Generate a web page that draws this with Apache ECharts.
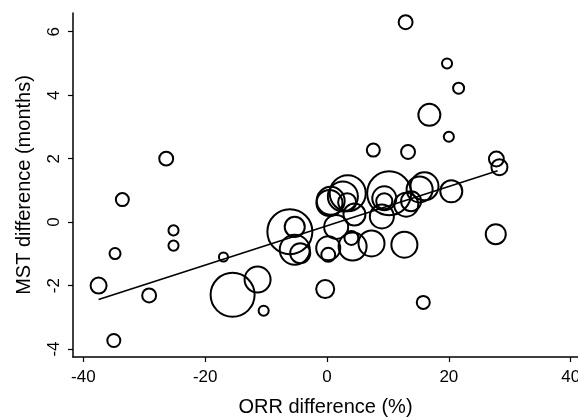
<!DOCTYPE html>
<html>
<head>
<meta charset="utf-8">
<script src="https://cdn.jsdelivr.net/npm/echarts@6/dist/echarts.min.js"></script>
<style>
  html, body { margin: 0; padding: 0; background: #fff; }
</style>
</head>
<body>
<div id="chart" style="width: 578px; height: 418px;"></div>
<script>
// ORR difference (%) per study
var orrDiff = [-37.5, -35.0, -34.8, -33.6, -29.2, -26.4, -25.2, -25.2, -17.0, -15.5,
  -11.4, -10.4, -6.1, -5.3, -5.3, -4.4, -0.3, 0.2, 0.2, 0.6,
  1.5, 2.6, 3.3, 3.4, 4.0, 4.2, 4.5, 7.3, 7.6, 9.0,
  9.4, 9.4, 10.2, 12.7, 12.9, 13.0, 13.3, 13.8, 15.2, 15.8,
  16.0, 16.8, 19.7, 20.0, 20.4, 21.6, 27.7, 27.8, 28.3, 0.4];
// MST difference (months) per study
var mstDiff = [-2.0, -3.73, -0.99, 0.71, -2.31, 2.0, -0.26, -0.74, -1.10, -2.29,
  -1.81, -2.79, -0.3, -0.15, -0.87, -0.98, -2.11, -0.82, -1.03, 0.67,
  -0.15, 0.81, 0.63, 0.91, -0.5, -0.77, 0.24, -0.67, 2.27, 0.18,
  0.75, 0.66, 0.91, -0.71, 6.3, 0.55, 2.21, 0.66, 1.03, -2.53,
  1.13, 3.38, 5.0, 2.69, 0.97, 4.22, -0.38, 1.99, 1.73, 0.6];
// study weight (bubble area)
var weight = [53, 35, 25, 35, 40, 40, 21, 21, 17, 400,
  140, 21, 418, 83, 186, 83, 67, 119, 40, 162,
  119, 186, 67, 268, 40, 162, 100, 140, 35, 119,
  119, 53, 400, 140, 40, 119, 40, 83, 140, 35,
  162, 100, 21, 21, 100, 25, 83, 46, 53, 140];
// fitted regression line
var fitX = [-37.5, 28.0];
var fitY = [-2.44, 1.62];

var xTicks = [-40, -20, 0, 20, 40];
var yTicks = [-4, -2, 0, 2, 4, 6];

var points = orrDiff.map(function (x, i) { return [x, mstDiff[i], weight[i]]; });
var fitLine = fitX.map(function (x, i) { return [x, fitY[i]]; });

var font = "'Liberation Sans', Arial, Helvetica, sans-serif";

var chart = echarts.init(document.getElementById('chart'));
chart.setOption({
  backgroundColor: '#fff',
  animation: false,
  grid: { left: 73, right: 0, top: 13, bottom: 61, containLabel: false, outerBoundsMode: 'none' },
  xAxis: {
    type: 'value',
    min: -41.7,
    max: 41.2,
    name: 'ORR difference (%)',
    nameLocation: 'middle',
    nameGap: 40,
    nameTextStyle: { fontFamily: font, fontSize: 20, color: '#000' },
    axisLine: { onZero: false, lineStyle: { color: '#000', width: 1.5 } },
    axisTick: { customValues: xTicks, length: 5, lineStyle: { color: '#000', width: 1.2 } },
    axisLabel: { customValues: xTicks, fontFamily: font, fontSize: 17, color: '#000', margin: 12 },
    splitLine: { show: false }
  },
  yAxis: {
    type: 'value',
    min: -4.25,
    max: 6.59,
    name: 'MST difference (months)',
    nameLocation: 'middle',
    nameGap: 39,
    nameTextStyle: { fontFamily: font, fontSize: 20, color: '#000' },
    axisLine: { onZero: false, lineStyle: { color: '#000', width: 1.5 } },
    axisTick: { customValues: yTicks, length: 5, lineStyle: { color: '#000', width: 1.2 } },
    axisLabel: { customValues: yTicks, rotate: 90, fontFamily: font, fontSize: 17, color: '#000', margin: 10 },
    splitLine: { show: false }
  },
  series: [
    {
      type: 'scatter',
      data: points,
      symbol: 'circle',
      symbolSize: function (v) { return 2.2 * Math.sqrt(v[2]); },
      itemStyle: { color: 'rgba(0,0,0,0)', borderColor: '#000', borderWidth: 2, opacity: 1 },
      emphasis: { disabled: true }
    },
    {
      type: 'line',
      data: fitLine,
      symbol: 'none',
      lineStyle: { color: '#000', width: 1.6 },
      emphasis: { disabled: true }
    }
  ]
});
</script>
</body>
</html>
